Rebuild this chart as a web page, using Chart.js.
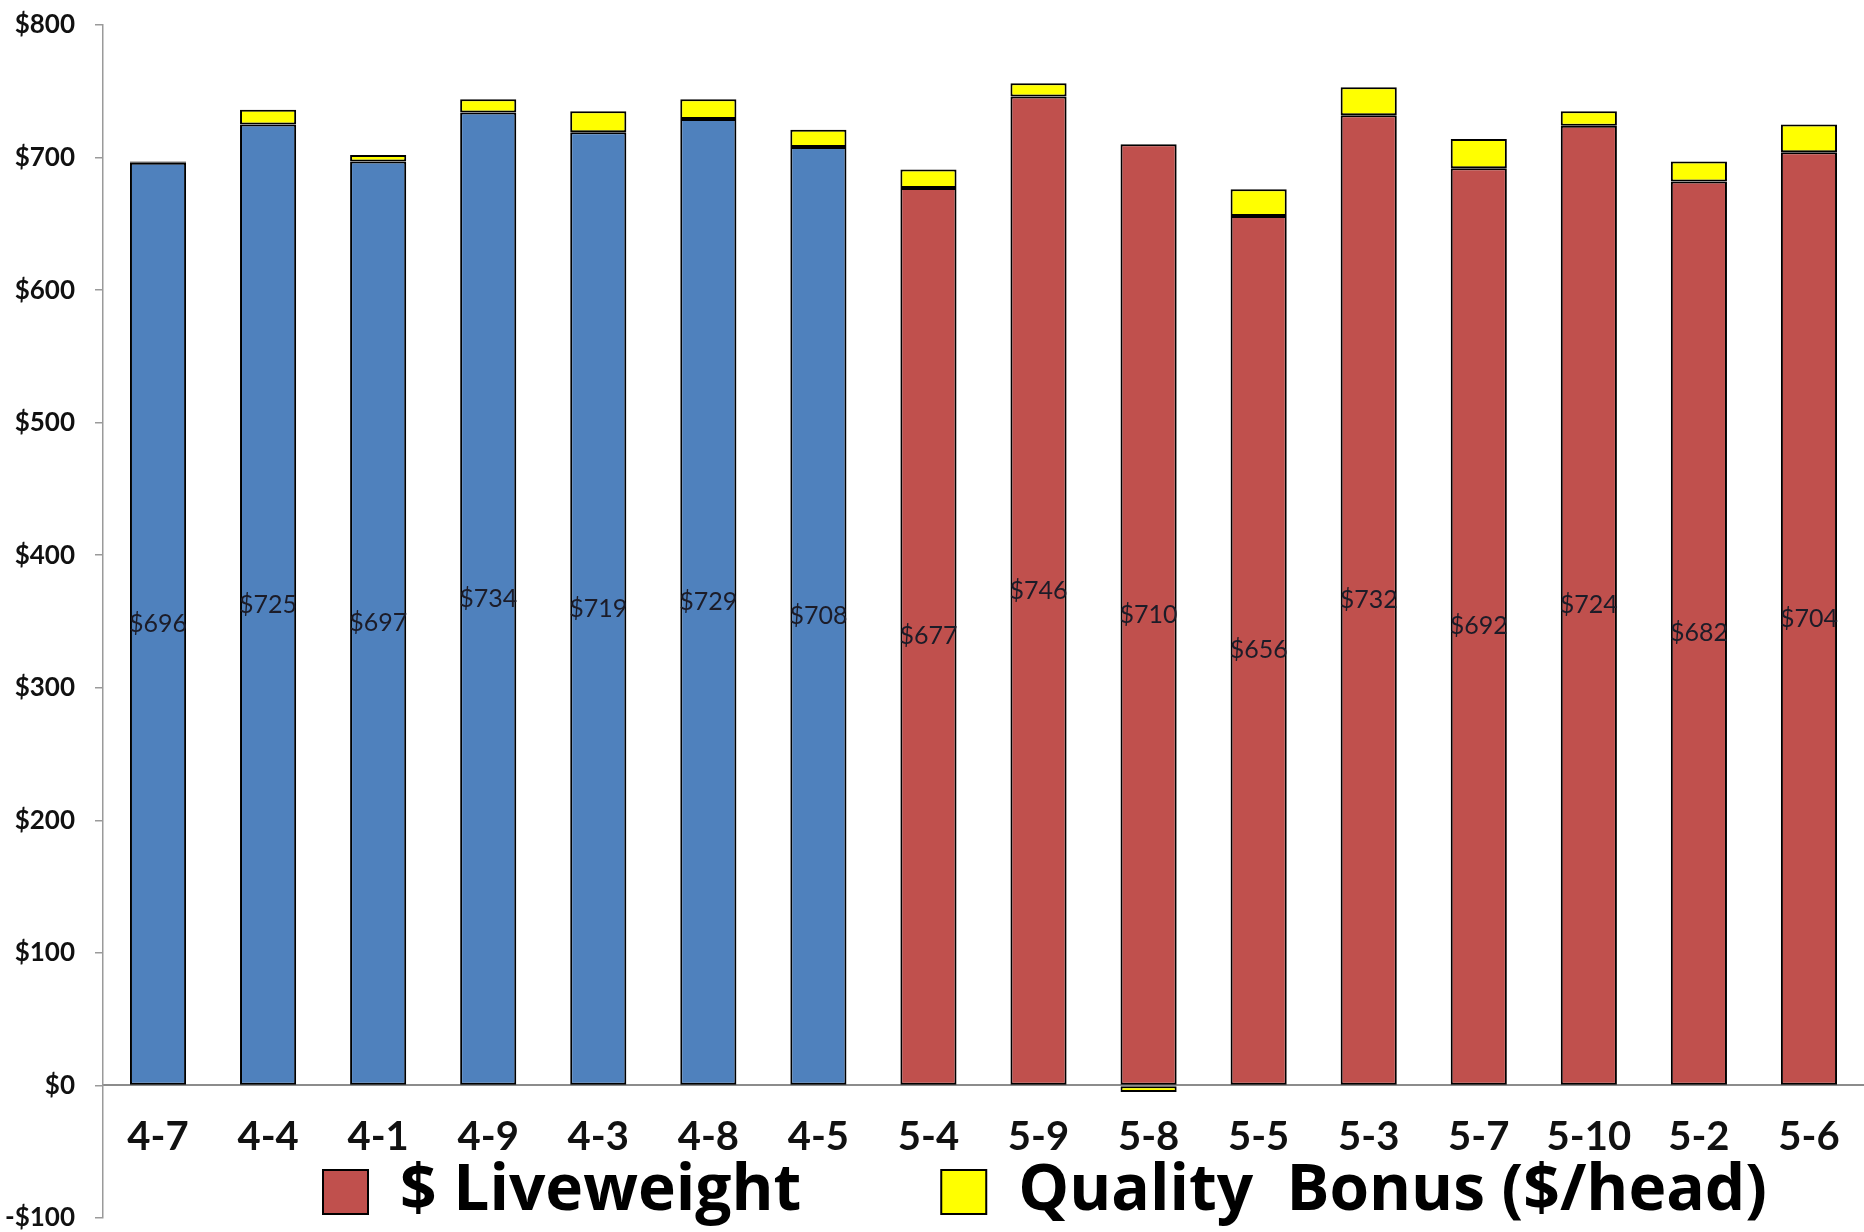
<!DOCTYPE html>
<html>
<head>
<meta charset="utf-8">
<style>
  html, body { margin: 0; padding: 0; background: #ffffff; }
  #wrap { width: 1864px; height: 1232px; position: relative; }
</style>
<script src="https://cdn.jsdelivr.net/npm/chart.js@4/dist/chart.umd.min.js"></script>
</head>
<body>
<div id="wrap"><canvas id="chart" width="1864" height="1232"></canvas></div>
<script>
// Animal IDs (group 4 and group 5)
const categories = ['4-7', '4-4', '4-1', '4-9', '4-3', '4-8', '4-5',
                    '5-4', '5-9', '5-8', '5-5', '5-3', '5-7', '5-10', '5-2', '5-6'];
// Value of liveweight per head ($)
const liveweight = [696, 725, 697, 734, 719, 729, 708,
                    677, 746, 710, 656, 732, 692, 724, 682, 704];
// Carcass quality bonus per head ($)
const qualityBonus = [1, 11, 5, 10, 16, 15, 13,
                      14, 10, -5, 20, 21, 22, 11, 15, 21];
// Value axis ticks
const yTicks = [-100, 0, 100, 200, 300, 400, 500, 600, 700, 800];

const seriesNames = ['$ Liveweight', 'Quality  Bonus ($/head)'];
const GROUP4_BLUE = '#4F81BD';
const GROUP5_RED = '#C0504D';
const BONUS_YELLOW = '#FFFF00';
const LEGEND_GAP = 140;
const LEGEND_START_X = 323;
const LEGEND_TOP = 1160;

// Blue bars for group 4, red for group 5
function liveweightColor(ctx) {
  const cat = categories[ctx.dataIndex] || '';
  return cat.startsWith('4-') ? GROUP4_BLUE : GROUP5_RED;
}

// Writes each liveweight value in the middle of its bar
const valueLabels = {
  id: 'valueLabels',
  afterDatasetsDraw(chart) {
    const meta = chart.getDatasetMeta(0);
    const ctx = chart.ctx;
    ctx.save();
    ctx.font = '25px Lato, "Liberation Sans", sans-serif';
    ctx.fillStyle = '#1c1c28';
    ctx.textAlign = 'center';
    ctx.textBaseline = 'middle';
    meta.data.forEach((bar, i) => {
      const v = chart.data.datasets[0].data[i];
      ctx.fillText('$' + v, bar.x, (bar.y + bar.base) / 2);
    });
    ctx.restore();
  }
};

// The legend sits over the lower band of the plot instead of taking space
const legendOverlay = {
  id: 'legendOverlay',
  afterInit(chart) {
    const lg = chart.legend;
    const origFit = lg.fit;
    lg.fit = function () {
      origFit.call(this);
      this.height = 0;
    };
  },
  afterLayout(chart) {
    const lg = chart.legend;
    const lineW = lg.lineWidths ? lg.lineWidths[0] : 0;
    const centredStart = (lg.left + LEGEND_GAP + lg.right - lineW) / 2;
    const shift = LEGEND_START_X - centredStart;
    lg.top = LEGEND_TOP - LEGEND_GAP;
    lg.bottom = chart.height;
    lg.left += shift;
    lg.right += shift;
  }
};

function noOverflow(scale) {
  scale.paddingTop = 0;
  scale.paddingBottom = 0;
  scale.paddingLeft = 0;
  scale.paddingRight = 0;
}

new Chart(document.getElementById('chart'), {
  type: 'bar',
  data: {
    labels: categories,
    datasets: [
      {
        label: seriesNames[0],
        data: liveweight,
        backgroundColor: liveweightColor,
        borderColor: '#000000',
        borderWidth: 2,
        borderSkipped: false
      },
      {
        label: seriesNames[1],
        data: qualityBonus,
        backgroundColor: BONUS_YELLOW,
        borderColor: '#000000',
        borderWidth: 2,
        borderSkipped: false
      }
    ]
  },
  options: {
    responsive: false,
    animation: false,
    devicePixelRatio: 1,
    layout: { padding: { top: 25, bottom: 14, left: 0, right: 0 } },
    datasets: {
      bar: { categoryPercentage: 1.0, barPercentage: 0.51 }
    },
    scales: {
      x: {
        stacked: true,
        position: { y: 0 },
        afterFit: noOverflow,
        grid: { display: false, drawTicks: false },
        border: { display: true, color: '#8c8c8c', width: 2 },
        ticks: {
          padding: 28,
          color: '#111111',
          font: { family: 'Lato, "Liberation Sans", sans-serif', size: 40, weight: 'bold' }
        }
      },
      y: {
        stacked: true,
        min: -100,
        max: 800,
        afterBuildTicks(scale) {
          scale.ticks = yTicks.map(v => ({ value: v }));
        },
        afterFit(scale) {
          noOverflow(scale);
          scale.width = 103;
        },
        grid: {
          drawOnChartArea: false,
          drawTicks: true,
          tickLength: 8,
          color: '#9a9a9a',
          lineWidth: 1.5
        },
        border: { display: true, color: '#9a9a9a', width: 1.5 },
        ticks: {
          padding: 20,
          color: '#111111',
          font: { family: 'Lato, "Liberation Sans", sans-serif', size: 26, weight: 'bold' },
          callback: v => (v < 0 ? '-$' : '$') + Math.abs(v)
        }
      }
    },
    plugins: {
      title: { display: false },
      tooltip: { enabled: false },
      legend: {
        display: true,
        position: 'bottom',
        labels: {
          boxWidth: 45,
          boxHeight: 44,
          padding: LEGEND_GAP,
          color: '#000000',
          font: { family: '"Open Sans", Lato, sans-serif', size: 64, weight: 'bold' },
          generateLabels(chart) {
            const items = Chart.defaults.plugins.legend.labels.generateLabels(chart);
            // liveweight swatch shows the group-5 red
            if (items[0]) items[0].fillStyle = GROUP5_RED;
            return items;
          }
        }
      }
    }
  },
  plugins: [valueLabels, legendOverlay]
});
</script>
</body>
</html>
